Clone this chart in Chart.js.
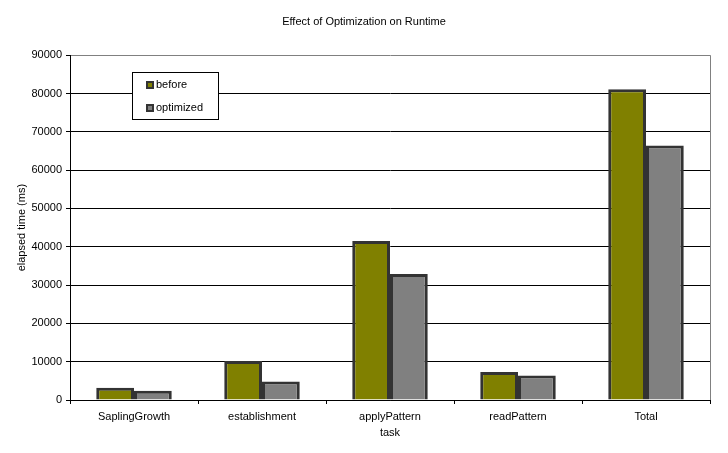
<!DOCTYPE html>
<html>
<head>
<meta charset="utf-8">
<script src="https://cdn.jsdelivr.net/npm/chart.js@4.4.1/dist/chart.umd.min.js"></script>
<style>
  html, body { margin: 0; padding: 0; background: #fff; }
  #wrap { width: 728px; height: 453px; }
</style>
</head>
<body>
<div id="wrap"><canvas id="runtimeChart" width="728" height="453"></canvas></div>
<script>
const tasks = ['SaplingGrowth', 'establishment', 'applyPattern', 'readPattern', 'Total'];
const beforeMs = [3200, 10200, 41500, 7300, 81100];
const optimizedMs = [2400, 4800, 32900, 6400, 66400];
const yTicks = [0, 10000, 20000, 30000, 40000, 50000, 60000, 70000, 80000, 90000];

const fontFamily = '"Liberation Sans", Arial, sans-serif';

// Legend box inside the plot + gray frame on the right
const boxLegend = {
    id: 'boxLegend',
    afterDraw(chart) {
        const ctx = chart.ctx;
        const area = chart.chartArea;
        ctx.save();
        ctx.strokeStyle = '#808080';
        ctx.lineWidth = 1;
        ctx.beginPath();
        ctx.moveTo(area.right + 0.5, area.top);
        ctx.lineTo(area.right + 0.5, area.bottom);
        ctx.stroke();

        const x = 132.5, y = 72.5, w = 86, h = 47;
        ctx.fillStyle = '#fff';
        ctx.strokeStyle = '#000';
        ctx.fillRect(x, y, w, h);
        ctx.strokeRect(x, y, w, h);
        ctx.font = '11px ' + fontFamily;
        ctx.textBaseline = 'middle';
        chart.data.datasets.forEach((ds, i) => {
            const cy = 85 + i * 23;
            ctx.fillStyle = '#333';
            ctx.fillRect(146, cy - 4, 8, 8);
            ctx.fillStyle = ds.backgroundColor;
            ctx.fillRect(148, cy - 2, 4, 4);
            ctx.fillStyle = '#000';
            ctx.fillText(ds.label, 156, cy);
        });
        ctx.restore();
    }
};

const chart = new Chart(document.getElementById('runtimeChart').getContext('2d'), {
    type: 'bar',
    data: {
        labels: tasks,
        datasets: [{
            label: 'before',
            data: beforeMs,
            backgroundColor: '#808000',
            borderColor: '#333333',
            borderWidth: 3
        }, {
            label: 'optimized',
            data: optimizedMs,
            backgroundColor: '#808080',
            borderColor: '#333333',
            borderWidth: 3
        }]
    },
    options: {
        responsive: false,
        animation: false,
        layout: {
            padding: { left: 18, right: 18, top: 0, bottom: 0 }
        },
        datasets: {
            bar: {
                categoryPercentage: 0.59,
                barPercentage: 1.0
            }
        },
        plugins: {
            legend: { display: false },
            tooltip: { enabled: false },
            title: {
                display: true,
                text: 'Effect of Optimization on Runtime',
                color: '#000',
                font: { family: fontFamily, size: 11, weight: 'normal', lineHeight: 1.2 },
                padding: { top: 15, bottom: 27 }
            }
        },
        scales: {
            y: {
                min: 0,
                max: 90000,
                afterBuildTicks(scale) {
                    scale.ticks = yTicks.map(v => ({ value: v }));
                },
                afterFit(scale) {
                    scale.width = 52;
                },
                ticks: {
                    color: '#000',
                    padding: 4,
                    font: { family: fontFamily, size: 11 },
                    callback: v => String(v)
                },
                grid: {
                    color: ctx => (ctx.tick && ctx.tick.value === 90000) ? '#808080' : '#000',
                    lineWidth: 1,
                    tickLength: 4,
                    tickColor: '#000'
                },
                border: { color: '#000', width: 1 },
                title: {
                    display: true,
                    text: 'elapsed time (ms)',
                    color: '#000',
                    font: { family: fontFamily, size: 11 },
                    padding: { top: -3, bottom: 0 }
                }
            },
            x: {
                afterFit(scale) {
                    scale.height = 53;
                },
                ticks: {
                    color: '#000',
                    padding: 6,
                    font: { family: fontFamily, size: 11 }
                },
                grid: {
                    offset: true,
                    drawOnChartArea: false,
                    drawTicks: true,
                    tickLength: 4,
                    color: '#000'
                },
                border: { color: '#000', width: 1 },
                title: {
                    display: true,
                    text: 'task',
                    color: '#000',
                    font: { family: fontFamily, size: 11 },
                    padding: { top: 0, bottom: 13 }
                }
            }
        }
    },
    plugins: [boxLegend]
});
</script>
</body>
</html>
